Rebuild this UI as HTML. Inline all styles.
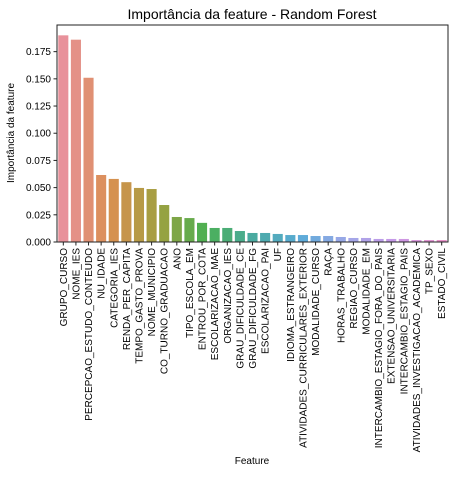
<!DOCTYPE html>
<html><head><meta charset="utf-8"><style>
body{margin:0;background:#fff;}
svg{font-family:"Liberation Sans","DejaVu Sans",sans-serif;}
</style></head><body>
<svg id="chart" width="455" height="474">
<text x="252" y="19" text-anchor="middle" font-size="14" fill="#000">Importância da feature - Random Forest</text>
<text transform="translate(14,133) rotate(-90)" text-anchor="middle" font-size="10" fill="#000">Importância da feature</text>
<text x="252" y="464" text-anchor="middle" font-size="10" fill="#000">Feature</text>
<g id="bars"></g><g id="yticks"></g><g id="xticks"></g>
<rect x="57" y="25" width="391" height="217" fill="none" stroke="#222" stroke-width="1"/>
</svg>
<script>
const categories=["GRUPO_CURSO","NOME_IES","PERCEPCAO_ESTUDO_CONTEUDO","NU_IDADE","CATEGORIA_IES","RENDA_PER_CAPITA","TEMPO_GASTO_PROVA","NOME_MUNICIPIO","CO_TURNO_GRADUACAO","ANO","TIPO_ESCOLA_EM","ENTROU_POR_COTA","ESCOLARIZACAO_MAE","ORGANIZACAO_IES","GRAU_DIFICULDADE_CE","GRAU_DIFICULDADE_FG","ESCOLARIZACAO_PAI","UF","IDIOMA_ESTRANGEIRO","ATIVIDADES_CURRICULARES_EXTERIOR","MODALIDADE_CURSO","RAÇA","HORAS_TRABALHO","REGIAO_CURSO","MODALIDADE_EM","INTERCAMBIO_ESTAGIO_FORA_DO_PAIS","EXTENSAO_UNIVERSITARIA","INTERCAMBIO_ESTAGIO_PAIS","ATIVIDADES_INVESTIGACAO_ACADEMICA","TP_SEXO","ESTADO_CIVIL"];
const values=[0.190,0.186,0.151,0.0616,0.058,0.055,0.0497,0.0487,0.034,0.023,0.022,0.0176,0.0129,0.0129,0.0101,0.0083,0.0083,0.0074,0.0064,0.0064,0.0055,0.0055,0.0046,0.0037,0.0037,0.0028,0.0028,0.0028,0.0018,0.0018,0.0018];
const yTicks=[0,0.025,0.05,0.075,0.1,0.125,0.15,0.175];
const yTickLabels=["0.000","0.025","0.050","0.075","0.100","0.125","0.150","0.175"];
const NS="http://www.w3.org/2000/svg";
const L=57,R=448,T=25,B=242,YMAX=0.1995;
const y=v=>B-(v/YMAX)*(B-T);
const step=(R-L)/categories.length;
const x=i=>L+step*i;
const anchors=[[232,145,155],[217,144,80],[160,160,64],[75,176,82],[74,170,160],[90,171,216],[160,168,232],[200,152,232],[232,144,200]];
function color(i,n){const t=i/(n-1)*(anchors.length-1);const k=Math.min(Math.floor(t),anchors.length-2);const f=t-k;const a=anchors[k],b=anchors[k+1];return `rgb(${a.map((c,j)=>Math.round(c+(b[j]-c)*f)).join(',')})`;}
const gb=document.getElementById('bars'),gy=document.getElementById('yticks'),gx=document.getElementById('xticks');
categories.forEach((c,i)=>{
 const r=document.createElementNS(NS,'rect');
 r.setAttribute('x',x(i)+step*0.1);r.setAttribute('width',step*0.8);
 r.setAttribute('y',y(values[i]));r.setAttribute('height',B-y(values[i]));
 r.setAttribute('fill',color(i,categories.length));
 
 
 gb.appendChild(r);
 const cx=x(i)+step/2;
 const tk=document.createElementNS(NS,'line');
 tk.setAttribute('x1',cx);tk.setAttribute('x2',cx);tk.setAttribute('y1',B);tk.setAttribute('y2',B+3.5);tk.setAttribute('stroke','#222');
 
 
 gx.appendChild(tk);
 const t=document.createElementNS(NS,'text');
 t.setAttribute('transform',`translate(${cx+3.5},${B+6}) rotate(-90)`);
 t.setAttribute('text-anchor','end');t.setAttribute('font-size','10');t.setAttribute('fill','#000');
 t.textContent=c;
 
 
 gx.appendChild(t);
});
yTicks.forEach((v,i)=>{
 const tk=document.createElementNS(NS,'line');
 tk.setAttribute('x1',L-3.5);tk.setAttribute('x2',L);tk.setAttribute('y1',y(v));tk.setAttribute('y2',y(v));tk.setAttribute('stroke','#222');
 
 
 gy.appendChild(tk);
 const t=document.createElementNS(NS,'text');
 t.setAttribute('x',L-6);t.setAttribute('y',y(v)+3.5);t.setAttribute('text-anchor','end');t.setAttribute('font-size','10');t.setAttribute('fill','#000');
 t.textContent=yTickLabels[i];
 
 
 gy.appendChild(t);
});
</script>
</body></html>
